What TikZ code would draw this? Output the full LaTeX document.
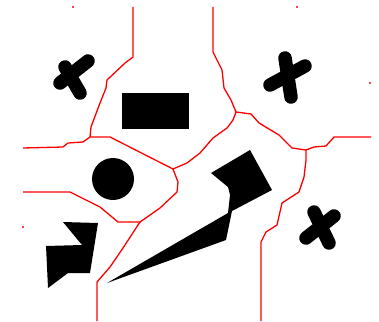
\documentclass[tikz,border=0pt]{standalone}
\usepackage{tikz}
\usetikzlibrary{calc}

\begin{document}
\begin{tikzpicture}[x=1pt,y=-1pt,
    edge/.style={red, line width=1.3pt, line join=round},
    cross/.style={line width=13.5pt, line cap=round}]
    \useasboundingbox (0,0) rectangle (379,321);
    % Junctions of the diagram
    \coordinate (J1) at (90,137);
    \coordinate (J2) at (173,169);
    \coordinate (J3) at (236,112);
    \coordinate (J4) at (306,150);
    \coordinate (J5) at (140,222);
    % Obstacles
    \fill (122,93) rectangle (189,129);
    \fill (113,179) circle (21);
    \fill (63,222) -- (98,223) -- (90,273) -- (68,273) -- (48,288) -- (46,246) -- (82,245) -- cycle;
    \fill (211,173) -- (250,150) -- (272,190) -- (232,211) -- (226,240) -- (107,283)
        -- (228,213) -- (230,195) -- (228,187) -- cycle;
    \draw[cross] (65,67) -- (80,93) (60,83) -- (88,61);
    \draw[cross] (285,58) -- (291,97) (270,85) -- (305,66);
    \draw[cross] (314,212) -- (329,243) (334,216) -- (306,238);
    % Edges
    \draw[edge] (133,7) -- (133,57) -- (125,63) -- (107,80) -- (106,88) -- (100,103) -- (91,127) -- (J1);
    \draw[edge] (J1) -- (83,142) -- (68,143) -- (63,147) -- (23,148);
    \draw[edge] (J1) -- (110,137) -- (J2);
    \draw[edge] (213,7) -- (213,52) -- (222,70) -- (224,88) -- (231,100) -- (J3);
    \draw[edge] (J3) -- (233,120) -- (227,128) -- (213,138) -- (200,153) -- (187,163) -- (J2);
    \draw[edge] (J3) -- (251,114) -- (259,123) -- (274,132) -- (279,135) -- (292,148) -- (J4)
        -- (314,147) -- (326,146) -- (334,137) -- (371,137);
    \draw[edge] (J4) -- (306,160) -- (304,177) -- (299,192) -- (282,203) -- (277,225) -- (266,232)
        -- (261,242) -- (261,321);
    \draw[edge] (J2) -- (178,182) -- (177,192) -- (160,208) -- (J5) -- (118,222) -- (100,207)
        -- (70,192) -- (23,192);
    \draw[edge] (J5) -- (138,225) -- (123,248) -- (110,267) -- (97,282) -- (97,321);
    % Stray points
    \foreach \p in {(73,7),(297,7),(370,83),(23,227)}
        \fill[red] \p circle (1.2);
\end{tikzpicture}
\end{document}
